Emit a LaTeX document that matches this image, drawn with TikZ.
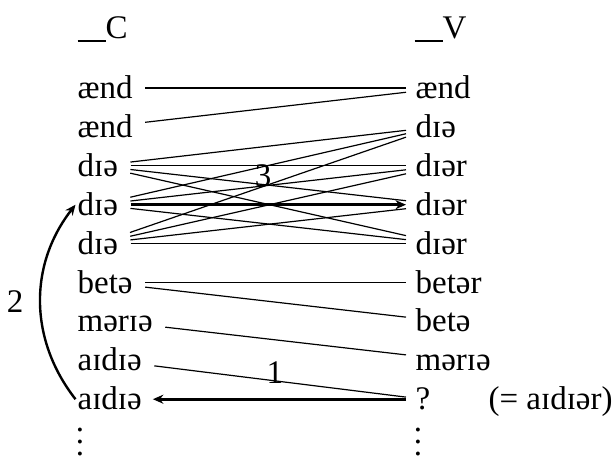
\documentclass[tikz,border=0pt]{standalone}
\usepackage{fontspec}
\setmainfont{Liberation Serif}
\usetikzlibrary{arrows.meta}

\begin{document}
\begin{tikzpicture}[x=0.3333pt, y=-0.3333pt, every node/.style={font=\fontsize{11}{13}\selectfont},
  lword/.style={anchor=west, inner xsep=0.5pt, inner ysep=0pt, text height=7pt, text depth=0pt},
  rword/.style={anchor=west, inner xsep=3pt, inner ysep=0pt, text height=7pt, text depth=0pt},
  head/.style={anchor=base west, inner sep=0pt},
  link/.style={shorten <=3.5pt},
  arr/.style={-{Stealth[length=3.5pt, width=3pt]}, line width=1pt},
  curv/.style={-{Stealth[length=3.5pt, width=3pt]}, thick}]
\useasboundingbox (0,0) rectangle (616,458);
% column heads
\node[head] (headC) at (77,38) {\rule[-1.4pt]{9.3pt}{0.6pt}C};
\node[head] (headV) at (414,38) {\rule[-1.4pt]{9.3pt}{0.6pt}V};
% the two columns
\foreach \w [count=\i] in {ænd, ænd, dɪə, dɪə, dɪə, betə, mərɪə, aɪdɪə, aɪdɪə}
  \node[lword] (l\i) at (75.5, {49.1+38.9*\i}) {\w};
\foreach \w [count=\i] in {ænd, dɪə, dɪər, dɪər, dɪər, betər, betə, mərɪə, ?}
  \node[rword] (r\i) at (406, {49.1+38.9*\i}) {\w};
\node[rword] (gloss) at (479, 399.2) {(= aɪdɪər)};
\node[inner sep=0pt, anchor=base] (ldots) at (80,455) {\vdots};
\node[inner sep=0pt, anchor=base] (rdots) at (418,455) {\vdots};
% links
\foreach \a/\b in {1/1, 2/1, 3/2, 4/2, 5/2, 3/3, 3/4, 3/5, 4/3, 4/5, 5/3, 5/4, 5/5, 6/6, 6/7, 7/8, 8/9}
  \draw[link] (l\a) -- (r\b);
\draw[arr, link] (l4) -- node[above=2pt] {3} (r4);
\draw[arr, shorten >=3pt] (r9) -- node[above=1.3pt] {1} (l9);
\draw[curv] (l9.west) to[bend left=38] node[left, xshift=-2pt] {2} (l4.west);
\end{tikzpicture}
\end{document}
